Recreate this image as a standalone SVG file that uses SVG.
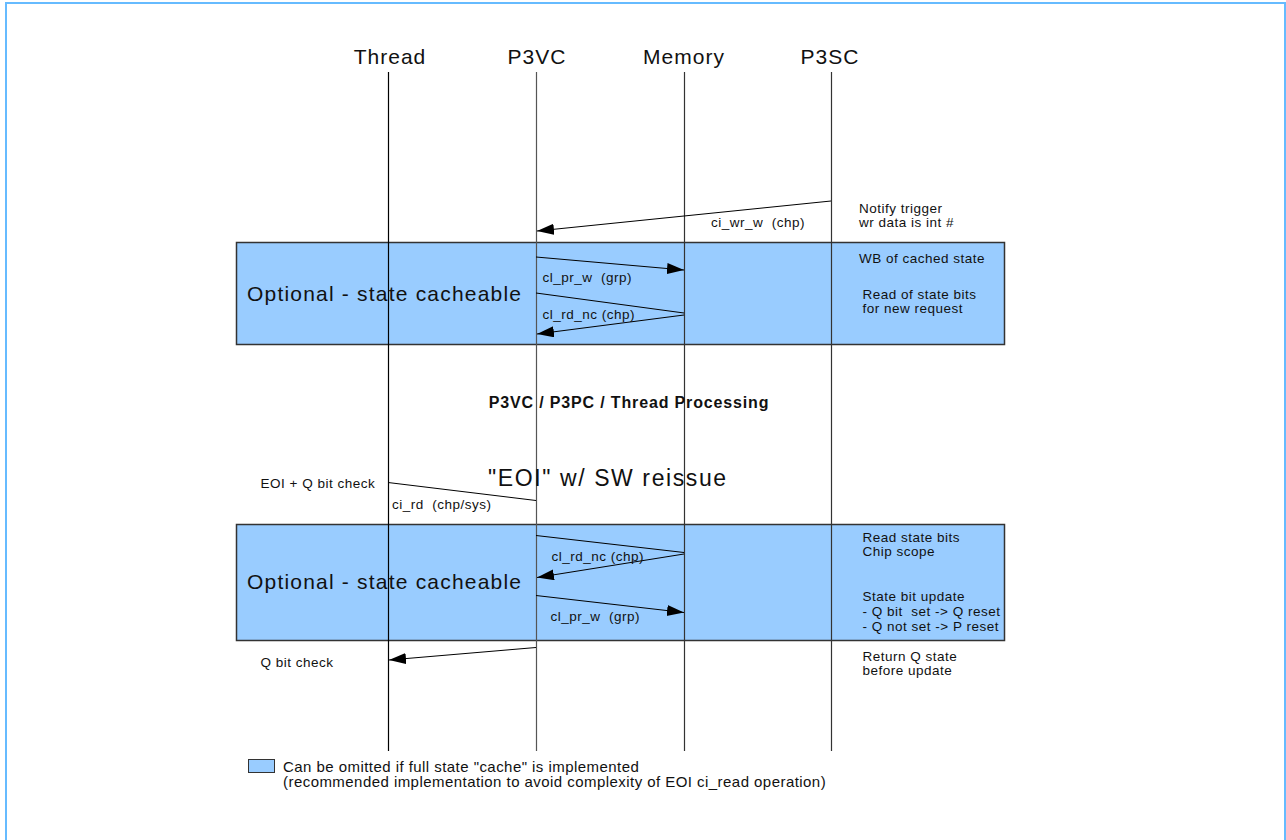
<svg xmlns="http://www.w3.org/2000/svg" width="1286" height="840" viewBox="0 0 1286 840">
<style>
text{font-family:"Liberation Sans",Arial,sans-serif;fill:#111;white-space:pre}
.hdr{font-size:21px;letter-spacing:1px;text-anchor:middle}
.sm{font-size:13.5px;letter-spacing:0.5px}
.lg{font-size:15px;letter-spacing:0.45px}
.big{font-size:21px;letter-spacing:1.2px}
.ttl{font-size:23px;letter-spacing:1.6px}
.bold{font-size:16px;font-weight:bold;letter-spacing:0.85px;text-anchor:middle}
.life{stroke-width:1.2;fill:none}
.box{fill:#99ccff;stroke:#333;stroke-width:1.5}
.msg{stroke:#000;stroke-width:1;fill:none}
</style>
<defs>
<marker id="ah" markerUnits="userSpaceOnUse" markerWidth="18" markerHeight="12" refX="17" refY="5.5" orient="auto">
<path d="M0,0 L17,5.5 L0,11 z" fill="#000"/>
</marker>
</defs>
<rect x="6" y="3" width="1279" height="860" fill="#fff" stroke="#66bbff" stroke-width="2"/>
<g id="box1"><rect class="box" x="236.5" y="242.5" width="768" height="102"/></g>
<g id="box2"><rect class="box" x="236.5" y="524.5" width="768" height="116"/></g>
<g id="lifelines">
<g id="thread"><text class="hdr" x="390" y="64">Thread</text><line class="life" stroke="#000" x1="388.5" y1="72" x2="388.5" y2="751"/></g>
<g id="p3vc"><text class="hdr" x="537" y="64">P3VC</text><line class="life" stroke="#555" x1="536.5" y1="72" x2="536.5" y2="751"/></g>
<g id="memory"><text class="hdr" x="684" y="64">Memory</text><line class="life" stroke="#333" x1="684.5" y1="72" x2="684.5" y2="751"/></g>
<g id="p3sc"><text class="hdr" x="830" y="64">P3SC</text><line class="life" stroke="#333" x1="831.5" y1="72" x2="831.5" y2="751"/></g>
</g>
<g id="connectors">
<line class="msg" x1="831" y1="201" x2="537" y2="231" marker-end="url(#ah)"/>
<line class="msg" x1="536" y1="257" x2="684" y2="270" marker-end="url(#ah)"/>
<line class="msg" x1="536" y1="293" x2="684" y2="313"/>
<line class="msg" x1="684" y1="315" x2="537" y2="334" marker-end="url(#ah)"/>
<line class="msg" x1="388" y1="482.5" x2="536" y2="500.5"/>
<line class="msg" x1="536" y1="535.5" x2="684" y2="552.5"/>
<line class="msg" x1="684" y1="554" x2="537" y2="577.5" marker-end="url(#ah)"/>
<line class="msg" x1="536" y1="595.5" x2="684" y2="612.5" marker-end="url(#ah)"/>
<line class="msg" x1="536" y1="647.5" x2="389" y2="660" marker-end="url(#ah)"/>
</g>
<g id="labels">
<text class="sm" x="859" y="213">Notify trigger</text>
<text class="sm" x="859" y="227">wr data is int #</text>
<text class="sm" x="711" y="227">ci_wr_w  (chp)</text>
<text class="sm" x="859" y="263">WB of cached state</text>
<text class="sm" x="862.5" y="299">Read of state bits</text>
<text class="sm" x="862.5" y="313">for new request</text>
<text class="sm" x="542.5" y="282">cl_pr_w  (grp)</text>
<text class="sm" x="542.5" y="319">cl_rd_nc (chp)</text>
<text class="big" x="247" y="301">Optional - state cacheable</text>
<text class="bold" x="629" y="408">P3VC / P3PC / Thread Processing</text>
<text class="ttl" x="488" y="486">"EOI" w/ SW reissue</text>
<text class="sm" x="260.5" y="488">EOI + Q bit check</text>
<text class="sm" x="392" y="509">ci_rd  (chp/sys)</text>
<text class="sm" x="551.5" y="561">cl_rd_nc (chp)</text>
<text class="sm" x="550.5" y="621">cl_pr_w  (grp)</text>
<text class="big" x="247" y="589">Optional - state cacheable</text>
<text class="sm" x="862.5" y="542">Read state bits</text>
<text class="sm" x="862.5" y="556">Chip scope</text>
<text class="sm" x="862.5" y="601">State bit update</text>
<text class="sm" x="862.5" y="616">- Q bit  set -&gt; Q reset</text>
<text class="sm" x="862.5" y="631">- Q not set -&gt; P reset</text>
<text class="sm" x="260.5" y="667">Q bit check</text>
<text class="sm" x="862.5" y="661">Return Q state</text>
<text class="sm" x="862.5" y="675">before update</text>
</g>
<g id="legend">
<rect x="248.5" y="759.5" width="26" height="13" fill="#99ccff" stroke="#333" stroke-width="1"/>
<text class="lg" x="283" y="771.5">Can be omitted if full state "cache" is implemented</text>
<text class="lg" x="283" y="786.5">(recommended implementation to avoid complexity of EOI ci_read operation)</text>
</g>
</svg>
